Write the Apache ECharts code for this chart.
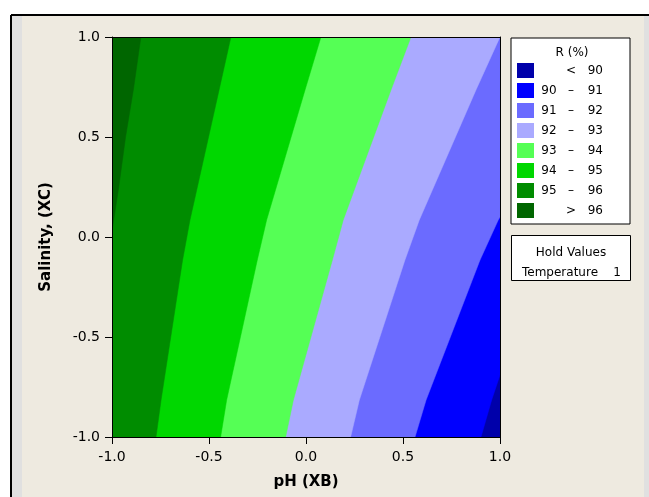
<!DOCTYPE html>
<html>
<head>
<meta charset="utf-8">
<script src="https://cdn.jsdelivr.net/npm/echarts@6/dist/echarts.min.js"></script>
<style>
  html, body { margin: 0; padding: 0; background: #fff; }
  #chart { width: 649px; height: 497px; }
</style>
</head>
<body>
<div id="chart"></div>
<script>
// contour levels, lowest first
var levelNames = ['< 90', '90 – 91', '91 – 92', '92 – 93', '93 – 94', '94 – 95', '95 – 96', '> 96']
var levelColors = ['#0000AA', '#0000FF', '#6B6BFF', '#AAAAFF', '#55FF55', '#00D700', '#008C00', '#006600']

// boundary of each level (points [pH, salinity], top to bottom);
// the region left of the boundary is at or above that level
var bound90 = [[1, 1], [1, -1]]
var bound91 = [[1, -0.69], [0.957, -0.815], [0.902, -1]]
var bound92 = [[1, 0.1], [0.991, 0.085], [0.897, -0.115], [0.619, -0.815], [0.562, -1]]
var bound93 = [[1, 1], [0.876, 0.735], [0.584, 0.085], [0.510, -0.115], [0.275, -0.815], [0.230, -1]]
var bound94 = [[0.541, 1], [0.438, 0.735], [0.192, 0.085], [0.136, -0.115], [-0.065, -0.815], [-0.105, -1]]
var bound95 = [[0.077, 1], [-0.005, 0.735], [-0.203, 0.085], [-0.251, -0.115], [-0.409, -0.815], [-0.440, -1]]
var bound96 = [[-0.387, 1], [-0.448, 0.735], [-0.598, 0.085], [-0.636, -0.115], [-0.747, -0.815], [-0.773, -1]]
var bound97 = [[-0.851, 1], [-0.890, 0.735], [-0.93, 0.5], [-0.965, 0.25], [-1, 0.03]]
var boundaries = [bound90, bound91, bound92, bound93, bound94, bound95, bound96, bound97]

var xTicks = [-1, -0.5, 0, 0.5, 1]
var yTicks = [-1, -0.5, 0, 0.5, 1]
var holdName = 'Temperature'
var holdValue = 1

var FONT = 'DejaVu Sans'
var chart = echarts.init(document.getElementById('chart'))

function regionOf (b) {
  var pts = [[-1, 1]]
  if (b[0][0] === 1) pts.push([1, 1])
  pts = pts.concat(b)
  if (b[b.length - 1][1] === -1) pts.push([-1, -1])
  return pts
}

function legendText (name) {
  if (name[0] === '<' || name[0] === '>') {
    return '{a| }{b|' + name[0] + '}{c|' + name.slice(2) + '}'
  }
  var p = name.split(' – ')
  return '{a|' + p[0] + '}{b|–}{c|' + p[1] + '}'
}

var series = levelNames.map(function (name, i) {
  var pts = regionOf(boundaries[i])
  return {
    type: 'custom',
    name: name,
    coordinateSystem: 'cartesian2d',
    clip: true,
    silent: true,
    itemStyle: { color: levelColors[i] },
    data: [[0, 0]],
    renderItem: function (params, api) {
      return {
        type: 'polygon',
        shape: { points: pts.map(function (p) { return api.coord(p) }) },
        style: { fill: levelColors[i], stroke: levelColors[i], lineWidth: 0.5 }
      }
    }
  }
})

function axisBase (pos, show) {
  return {
    type: 'value',
    position: pos,
    min: -1,
    max: 1,
    interval: 0.5,
    z: 10,
    axisLine: { show: true, onZero: false, lineStyle: { color: '#000', width: 1 } },
    axisTick: { show: show, length: 7, lineStyle: { color: '#000' } },
    splitLine: { show: false },
    axisLabel: {
      show: show,
      fontFamily: FONT,
      fontSize: 14,
      color: '#000',
      formatter: function (v) { return v.toFixed(1) }
    }
  }
}

var xMain = axisBase('bottom', true)
xMain.name = 'pH (XB)'
xMain.nameLocation = 'middle'
xMain.nameGap = 38
xMain.nameTextStyle = { fontFamily: FONT, fontSize: 15, fontWeight: 'bold', color: '#000' }
xMain.axisLabel.margin = 13
xMain.axisLabel.customValues = xTicks

var yMain = axisBase('left', true)
yMain.name = 'Salinity, (XC)'
yMain.nameLocation = 'middle'
yMain.nameGap = 58
yMain.nameTextStyle = { fontFamily: FONT, fontSize: 15, fontWeight: 'bold', color: '#000' }
yMain.axisLabel.margin = 12
yMain.axisLabel.customValues = yTicks

chart.setOption({
  backgroundColor: '#fff',
  animation: false,
  grid: { left: 112, top: 37, width: 388, height: 400 },
  xAxis: [xMain, axisBase('top', false)],
  yAxis: [yMain, axisBase('right', false)],
  legend: {
    orient: 'vertical',
    left: 511,
    top: 38,
    padding: [25, 27, 6, 6],
    backgroundColor: '#fff',
    borderColor: '#000',
    borderWidth: 1,
    borderRadius: 0,
    itemWidth: 17,
    itemHeight: 15,
    itemGap: 5,
    icon: 'rect',
    selectedMode: false,
    data: levelNames,
    formatter: legendText,
    textStyle: {
      fontFamily: FONT,
      fontSize: 12,
      color: '#000',
      rich: {
        a: { width: 20, align: 'right', fontFamily: FONT, fontSize: 12 },
        b: { width: 24, align: 'center', fontFamily: FONT, fontSize: 12 },
        c: { width: 20, align: 'right', fontFamily: FONT, fontSize: 12 }
      }
    }
  },
  graphic: [
    { type: 'rect', z: -10, silent: true, shape: { x: 11, y: 15, width: 700, height: 600 }, style: { fill: '#EEEAE0' } },
    { type: 'rect', z: -9, silent: true, shape: { x: 12, y: 16, width: 10, height: 600 }, style: { fill: '#E0E0E0' } },
    { type: 'rect', z: -9, silent: true, shape: { x: 644, y: 16, width: 10, height: 600 }, style: { fill: '#E0E0E0' } },
    { type: 'line', z: -8, silent: true, shape: { x1: 11, y1: 15, x2: 649, y2: 15 }, style: { stroke: '#000', lineWidth: 2 } },
    { type: 'line', z: -8, silent: true, shape: { x1: 11, y1: 15, x2: 11, y2: 497 }, style: { stroke: '#000', lineWidth: 2 } },
    { type: 'text', z: 100, silent: true, x: 572, y: 53, style: { text: 'R (%)', fontFamily: FONT, fontSize: 12, fill: '#000', align: 'center', verticalAlign: 'middle' } },
    {
      type: 'group',
      z: 100,
      silent: true,
      children: [
        { type: 'rect', shape: { x: 511.5, y: 235.5, width: 119, height: 45 }, style: { fill: '#fff', stroke: '#000', lineWidth: 1 } },
        { type: 'text', x: 571, y: 253, style: { text: 'Hold Values', fontFamily: FONT, fontSize: 12, fill: '#000', align: 'center', verticalAlign: 'middle' } },
        { type: 'text', x: 522, y: 273, style: { text: holdName, fontFamily: FONT, fontSize: 12, fill: '#000', align: 'left', verticalAlign: 'middle' } },
        { type: 'text', x: 621, y: 273, style: { text: String(holdValue), fontFamily: FONT, fontSize: 12, fill: '#000', align: 'right', verticalAlign: 'middle' } }
      ]
    }
  ],
  series: series
})
</script>
</body>
</html>
